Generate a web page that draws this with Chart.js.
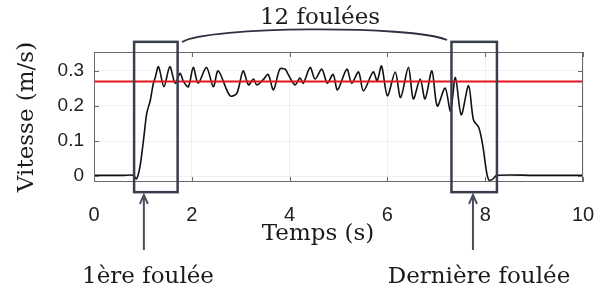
<!DOCTYPE html>
<html>
<head>
<meta charset="utf-8">
<script src="https://cdn.jsdelivr.net/npm/chart.js@4.4.1/dist/chart.umd.min.js"></script>
<style>
  html, body { margin: 0; padding: 0; background: #fff; }
  #wrap { width: 594px; height: 294px; }
</style>
</head>
<body>
<div id="wrap"><canvas id="speedChart"></canvas></div>
<script>
// time (s) and speed (m/s)
var times = [0, 0.3, 0.6, 0.8, 0.87, 0.94, 1.01, 1.08, 1.15, 1.21, 1.25, 1.32, 1.43, 1.55, 1.66, 1.76, 1.83, 1.93, 2.03, 2.13,
  2.30, 2.44, 2.54, 2.78, 2.92, 3.05, 3.16, 3.26, 3.33, 3.46, 3.56, 3.67, 3.80, 3.91, 3.97, 4.11, 4.21, 4.28, 4.42, 4.52,
  4.66, 4.77, 4.89, 4.98, 5.17, 5.27, 5.41, 5.51, 5.71, 5.79, 5.88, 6.0, 6.16, 6.27, 6.43, 6.53, 6.67, 6.77, 6.91, 7.02,
  7.18, 7.29, 7.39, 7.51, 7.66, 7.76, 7.87, 7.95, 8.03, 8.08, 8.16, 8.24, 9.0, 10.0];
var speeds = [0.002, 0.002, 0.002, 0.002, -0.008, 0.027, 0.10, 0.18, 0.215, 0.262, 0.28, 0.312, 0.255, 0.312, 0.265, 0.293, 0.27, 0.255, 0.31, 0.265,
  0.31, 0.255, 0.30, 0.229, 0.236, 0.30, 0.26, 0.277, 0.26, 0.275, 0.29, 0.246, 0.305, 0.305, 0.29, 0.26, 0.28, 0.265, 0.31, 0.277,
  0.305, 0.265, 0.29, 0.246, 0.305, 0.265, 0.297, 0.243, 0.297, 0.272, 0.314, 0.229, 0.297, 0.224, 0.31, 0.22, 0.277, 0.22, 0.30, 0.20,
  0.251, 0.186, 0.281, 0.175, 0.258, 0.16, 0.138, 0.087, 0.01, -0.012, -0.008, 0.002, 0.002, 0.002];
var meanSpeed = 0.27;

var xTicks = [0, 2, 4, 6, 8, 10];
var yTicks = [0, 0.1, 0.2, 0.3];

// boxes around first and last stride: [tStart, tEnd]
var strideBoxes = [[0.82, 1.71], [7.31, 8.24]];
var boxRange = [-0.046, 0.383];
var arrowTimes = [1.02, 7.75];
var arrowRange = [-0.054, -0.211];
var arcTimes = [1.8, 7.22];

var serif = '"DejaVu Serif", serif';

var decor = {
  id: 'decor',
  afterDraw: function(chart) {
    var ctx = chart.ctx, a = chart.chartArea;
    var xs = chart.scales.x, ys = chart.scales.y;
    ctx.save();

    // frame + inward ticks
    ctx.strokeStyle = '#6a6a6a';
    ctx.lineWidth = 1;
    ctx.strokeRect(a.left + 0.5, a.top + 0.5, a.right - a.left - 1, a.bottom - a.top - 1);
    ctx.beginPath();
    xTicks.forEach(function(v) {
      var px = Math.round(xs.getPixelForValue(v)) + 0.5;
      ctx.moveTo(px, a.bottom); ctx.lineTo(px, a.bottom - 5);
      ctx.moveTo(px, a.top); ctx.lineTo(px, a.top + 5);
    });
    yTicks.forEach(function(v) {
      var py = Math.round(ys.getPixelForValue(v)) + 0.5;
      ctx.moveTo(a.left, py); ctx.lineTo(a.left + 5, py);
      ctx.moveTo(a.right, py); ctx.lineTo(a.right - 5, py);
    });
    ctx.stroke();

    // stride boxes
    ctx.strokeStyle = '#3a3f4e';
    ctx.lineWidth = 2.5;
    var by0 = ys.getPixelForValue(boxRange[1]), by1 = ys.getPixelForValue(boxRange[0]);
    strideBoxes.forEach(function(b) {
      var bx0 = xs.getPixelForValue(b[0]), bx1 = xs.getPixelForValue(b[1]);
      ctx.strokeRect(bx0, by0, bx1 - bx0, by1 - by0);
    });

    // arc over the 12 strides
    var ax0 = xs.getPixelForValue(arcTimes[0]), ax1 = xs.getPixelForValue(arcTimes[1]);
    ctx.lineWidth = 1.8;
    ctx.strokeStyle = '#2e3240';
    ctx.beginPath();
    ctx.moveTo(ax0, 42);
    ctx.bezierCurveTo(ax0 + 25, 26, ax1 - 35, 25, ax1, 40);
    ctx.stroke();

    // arrows
    ctx.strokeStyle = '#4a4f5e';
    ctx.lineWidth = 2;
    arrowTimes.forEach(function(t) {
      var px = xs.getPixelForValue(t);
      var top = ys.getPixelForValue(arrowRange[0]), bot = ys.getPixelForValue(arrowRange[1]);
      ctx.beginPath();
      ctx.moveTo(px, bot); ctx.lineTo(px, top);
      ctx.moveTo(px - 4, top + 9); ctx.lineTo(px, top); ctx.lineTo(px + 4, top + 9);
      ctx.stroke();
    });

    // texts
    ctx.fillStyle = '#1a1a1a';
    ctx.font = '23px ' + serif;
    ctx.textAlign = 'center';
    ctx.textBaseline = 'alphabetic';
    ctx.fillText('12 foulées', 320, 24);
    ctx.fillText('Temps (s)', 318, 240);
    ctx.fillText('1ère foulée', 148, 283);
    ctx.fillText('Dernière foulée', 479, 283);
    ctx.save();
    ctx.translate(33, 117);
    ctx.rotate(-Math.PI / 2);
    ctx.fillText('Vitesse (m/s)', 0, 0);
    ctx.restore();

    ctx.restore();
  }
};

new Chart(document.getElementById('speedChart'), {
  type: 'line',
  data: {
    datasets: [{
      label: 'Moyenne',
      data: [{ x: 0, y: meanSpeed }, { x: 10, y: meanSpeed }],
      borderColor: '#e8121c',
      borderWidth: 2,
      pointRadius: 0
    }, {
      label: 'Vitesse',
      data: times.map(function(t, i) { return { x: t, y: speeds[i] }; }),
      borderColor: '#111',
      borderWidth: 1.6,
      tension: 0.3,
      pointRadius: 0
    }]
  },
  options: {
    responsive: true,
    maintainAspectRatio: false,
    animation: false,
    layout: { padding: { top: 52, right: 11, left: 0, bottom: 0 } },
    plugins: { legend: { display: false }, tooltip: { enabled: false } },
    scales: {
      x: {
        type: 'linear', min: 0, max: 10,
        afterBuildTicks: function(s) { s.ticks = xTicks.map(function(v) { return { value: v }; }); },
        afterFit: function(s) { s.height = 112; s.paddingLeft = 0; s.paddingRight = 0; },
        grid: { color: 'rgba(0,0,0,0.06)', drawTicks: false },
        border: { display: false },
        ticks: { color: '#222', padding: 21, maxRotation: 0, font: { family: '"Liberation Sans", Arial, sans-serif', size: 20 } }
      },
      y: {
        type: 'linear', min: -0.017, max: 0.354,
        afterBuildTicks: function(s) { s.ticks = yTicks.map(function(v) { return { value: v }; }); },
        afterFit: function(s) { s.width = 94; s.paddingTop = 0; s.paddingBottom = 0; },
        grid: { color: 'rgba(0,0,0,0.06)', drawTicks: false },
        border: { display: false },
        ticks: { color: '#222', padding: 10, font: { family: '"Liberation Sans", Arial, sans-serif', size: 19 } }
      }
    }
  },
  plugins: [decor]
});
</script>
</body>
</html>
